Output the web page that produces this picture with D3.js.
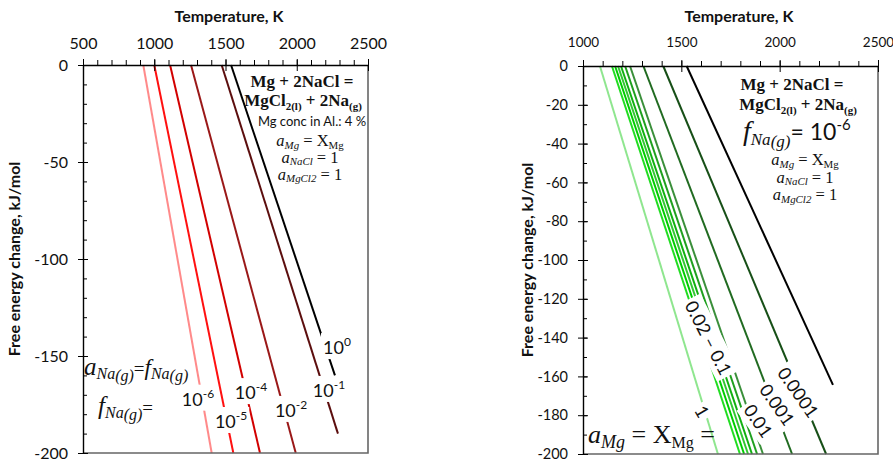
<!DOCTYPE html>
<html>
<head>
<meta charset="utf-8">
<script src="https://cdn.jsdelivr.net/npm/d3@7"></script>
<style>
  body { margin: 0; background: #fff; }
  text { font-family: Lato, "Open Sans", sans-serif; fill: #111; }
</style>
</head>
<body>
<svg id="chart" width="893" height="461"></svg>
<script>
// ---- left panel: Mg 4 % in Al, f_Na(g) varies ----
const leftExp    = ["-6", "-5", "-4", "-2", "-1", "0"];
const leftStartT = [923, 1000, 1111, 1258, 1473, 1539];   // T where dG = 0
const leftEndT   = [1403, 1555, 1742, 1993, 2289, 2268];
const leftEndG   = [-200, -200, -200, -200, -190, -160];
const leftLabelT = [1307, 1539, 1679, 1960, 2226, 2282];
const leftLabelG = [-172, -183.5, -168.6, -177.8, -167.5, -145.4];

// ---- right panel: f_Na(g) = 1e-6, a_Mg varies ----
const rightAMg    = [1, 0.1, 0.07, 0.05, 0.03, 0.02, 0.01, 0.001, 0.0001, 0.00001];
const rightStartT = [1086, 1147, 1163, 1178, 1193, 1214, 1239, 1307, 1408, 1527];
const rightEndT   = [1686, 1798, 1819, 1839, 1859, 1885, 1915, 2063, 2236, 2271];
const rightEndG   = [-200, -200, -200, -200, -200, -200, -200, -200, -200, -164.4];
const rightTagText = ["1", "0.02 \u2013 0.1", "0.01", "0.001", "0.0001"];
const rightTagT    = [1604, 1636, 1890, 1986, 2093];
const rightTagG    = [-178.2, -140.2, -183, -174.7, -168.3];

const leftColors  = ["#ff8a8a", "#ff1010", "#d20000", "#9a1818", "#5c0e0e", "#000000"];
const rightColors = ["#8fe68f", "#22dd22", "#00cc00", "#33c633", "#11b011", "#1fa01f",
                     "#3a8f3a", "#216b21", "#174f17", "#000000"];
const tagAngles   = [60, 63, 55, 55, 55];

const svg = d3.select("#chart");
const mathFont = "'Liberation Serif', 'DejaVu Serif', serif";

// text made of pieces, each with its own size / shift (sub, sup)
function rich(g, x, y, parts, anchor) {
  const t = g.append("text").attr("x", x).attr("y", y)
             .attr("text-anchor", anchor || "start");
  let cur = 0;
  parts.forEach(p => {
    const s = p.shift || 0;
    const ts = t.append("tspan").text(p.t).attr("dy", s - cur);
    cur = s;
    if (p.size) ts.attr("font-size", p.size);
    if (p.it) ts.attr("font-style", "italic");
    if (p.ff) ts.attr("font-family", p.ff);
    if (p.fw) ts.attr("font-weight", p.fw);
  });
  return t;
}

function backing(g, t, pad) {
  const b = t.node().getBBox();
  g.insert("rect", "text")
   .attr("x", b.x - pad).attr("y", b.y - pad / 2)
   .attr("width", b.width + 2 * pad).attr("height", b.height + pad)
   .attr("fill", "#fff");
}

function panel(o) {
  const x = d3.scaleLinear().domain(o.xDomain).range([o.left, o.right]);
  const y = d3.scaleLinear().domain([0, -200]).range([o.top, o.bottom]);
  const g = svg.append("g");

  // lines
  const line = d3.line().x(d => x(d[0])).y(d => y(d[1]));
  o.startT.forEach((t0, i) => {
    g.append("path")
     .datum([[t0, 0], [o.endT[i], o.endG[i]]])
     .attr("fill", "none")
     .attr("stroke", o.colors[i])
     .attr("stroke-width", 2)
     .attr("d", line);
  });

  // right / bottom frame
  g.append("path")
   .attr("d", `M${o.left},${o.bottom}H${o.right}V${o.top}`)
   .attr("fill", "none").attr("stroke", "#666").attr("stroke-width", 1.6);

  // top axis: minor ticks outward, major ticks crossing
  g.append("g").attr("transform", `translate(0,${o.top})`)
   .call(d3.axisTop(x).tickValues(d3.range(o.xDomain[0], o.xDomain[1] + 1, 100))
     .tickSize(5).tickSizeOuter(0).tickFormat(""))
   .call(a => a.select(".domain").remove());
  const ax = g.append("g").attr("transform", `translate(0,${o.top})`)
   .call(d3.axisTop(x).tickValues(o.xMajor).tickFormat(d => String(d))
     .tickSize(6).tickSizeOuter(0).tickPadding(o.xPad));
  ax.selectAll(".tick line").attr("y1", 6);
  ax.selectAll("text").attr("font-size", o.xfs).attr("font-family", "Lato, sans-serif").attr("fill", "#222");
  ax.select(".domain").attr("stroke-width", 1.4);

  // left axis: minor ticks inside
  g.append("g").attr("transform", `translate(${o.left},0)`)
   .call(d3.axisRight(y).tickValues(d3.range(0, -201, -10)).tickSize(4).tickSizeOuter(0).tickFormat(""))
   .call(a => a.select(".domain").remove());
  const ay = g.append("g").attr("transform", `translate(${o.left},0)`)
   .call(d3.axisLeft(y).tickValues(d3.range(0, -201, -o.yStep)).tickFormat(d => String(d))
     .tickSize(5).tickSizeOuter(0).tickPadding(o.yPad));
  ay.selectAll(".tick line").attr("x1", 5);
  ay.selectAll("text").attr("font-size", o.yfs).attr("font-family", "Lato, sans-serif").attr("fill", "#222");
  ay.select(".domain").attr("stroke-width", 1.4);

  // axis titles
  g.append("text").attr("x", o.xTitleX).attr("y", 22)
   .attr("text-anchor", "middle").attr("font-weight", "bold").attr("font-size", 16)
   .text("Temperature, K");
  g.append("text")
   .attr("transform", `translate(${o.yTitleX},${(o.top + o.bottom) / 2}) rotate(-90)`)
   .attr("text-anchor", "middle").attr("font-weight", "bold").attr("font-size", 16)
   .text("Free energy change, kJ/mol");

  return { g, x, y };
}

// ---------- left ----------
const L = panel({
  left: 83, right: 368, top: 65, bottom: 453,
  xDomain: [500, 2500], xMajor: [500, 1000, 1500, 2000, 2500], yStep: 50,
  startT: leftStartT, endT: leftEndT, endG: leftEndG, colors: leftColors,
  xfs: 16, yfs: 16, xPad: 10, yPad: 10, xTitleX: 229, yTitleX: 20
});

leftExp.forEach((e, i) => {
  const lg = L.g.append("g");
  const t = rich(lg, L.x(leftLabelT[i]), L.y(leftLabelG[i]) + 7, [
    { t: "10", size: 18 },
    { t: e, size: 12, shift: -8 }
  ], "middle");
  backing(lg, t, 2);
});

// reaction box, left
const sb = { ff: mathFont, fw: "bold" };
rich(L.g, 302, 87, [{ t: "Mg + 2NaCl =", size: 17, ...sb }], "middle");
rich(L.g, 303, 106, [
  { t: "MgCl", size: 17, ...sb }, { t: "2(l)", size: 11, shift: 4, ...sb },
  { t: " + 2Na", size: 17, ...sb }, { t: "(g)", size: 11, shift: 4, ...sb }
], "middle");
L.g.append("text").attr("x", 312).attr("y", 126).attr("text-anchor", "middle")
 .attr("font-size", 13).text("Mg conc in Al.: 4 %");

function activities(g, cx, y0, gap, fs) {
  const m = { ff: mathFont };
  const sub = { size: fs * 0.66, shift: 2.5 };
  rich(g, cx, y0, [
    { t: "a", size: fs, it: true, ...m }, { t: "Mg", it: true, ...sub, ...m },
    { t: " = X", size: fs, shift: 0, ...m }, { t: "Mg", ...sub, ...m }
  ], "middle");
  rich(g, cx, y0 + gap, [
    { t: "a", size: fs, it: true, ...m }, { t: "NaCl", it: true, ...sub, ...m },
    { t: " = 1", size: fs, shift: 0, ...m }
  ], "middle");
  rich(g, cx, y0 + 2 * gap, [
    { t: "a", size: fs, it: true, ...m }, { t: "MgCl2", it: true, ...sub, ...m },
    { t: " = 1", size: fs, shift: 0, ...m }
  ], "middle");
}
activities(L.g, 310, 146, 16.8, 16.5);

const mi = { ff: mathFont, it: true };
rich(L.g, 84, 375, [
  { t: "a", size: 25, ...mi }, { t: "Na", size: 16, shift: 4, ...mi }, { t: "(g)", size: 16, shift: 6, ...mi },
  { t: "=", size: 19, shift: 0, ff: mathFont }, { t: "f", size: 23, ...mi },
  { t: "Na", size: 16, shift: 4, ...mi }, { t: "(g)", size: 16, shift: 6, ...mi }
]);
rich(L.g, 98, 414, [
  { t: "f", size: 25, ...mi }, { t: "Na", size: 16, shift: 4, ...mi }, { t: "(g)", size: 16, shift: 6, ...mi },
  { t: "=", size: 19, shift: 0, ff: mathFont }
]);

// ---------- right ----------
const R = panel({
  left: 583, right: 878, top: 66, bottom: 454,
  xDomain: [1000, 2500], xMajor: [1000, 1500, 2000, 2500], yStep: 20,
  startT: rightStartT, endT: rightEndT, endG: rightEndG, colors: rightColors,
  xfs: 13.5, yfs: 14.5, xPad: 13, yPad: 10, xTitleX: 739, yTitleX: 533
});

rightTagText.forEach((s, i) => {
  const tg = R.g.append("g")
   .attr("transform", `translate(${R.x(rightTagT[i])},${R.y(rightTagG[i])}) rotate(${tagAngles[i]})`);
  const t = tg.append("text").attr("text-anchor", "middle").attr("dy", "0.35em")
   .attr("font-size", 18).text(s);
  backing(tg, t, 3);
});

rich(R.g, 792, 90, [{ t: "Mg + 2NaCl =", size: 17, ...sb }], "middle");
rich(R.g, 798, 110, [
  { t: "MgCl", size: 17, ...sb }, { t: "2(l)", size: 11, shift: 4, ...sb },
  { t: " + 2Na", size: 17, ...sb }, { t: "(g)", size: 11, shift: 4, ...sb }
], "middle");
rich(R.g, 743, 140, [
  { t: "f", size: 28, ...mi }, { t: "Na", size: 17, shift: 5, ...mi }, { t: "(g)", size: 17, shift: 7, ...mi },
  { t: "= 10", size: 23, shift: 0 }, { t: "-6", size: 15, shift: -10 }
]);
activities(R.g, 805, 165, 17.5, 16.5);

rich(R.g, 588, 443, [
  { t: "a", size: 26, ...mi }, { t: "Mg", size: 18, shift: 5, ...mi },
  { t: " = X", size: 26, shift: 0, ff: mathFont }, { t: "Mg", size: 16, shift: 5, ff: mathFont },
  { t: " =", size: 26, shift: 0, ff: mathFont }
]);
</script>
</body>
</html>
